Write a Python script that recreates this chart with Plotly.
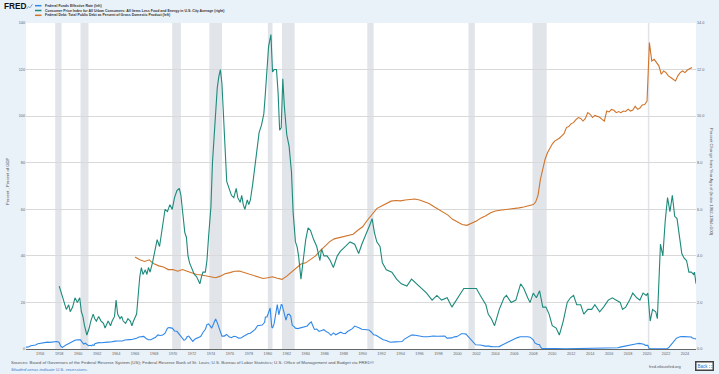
import plotly.graph_objects as go

# ---------------- data ----------------
ff_dates = ["1954-07","1954-10","1955-01","1955-04","1955-07","1955-10","1956-01","1956-04","1956-07","1956-10",
            "1957-01","1957-04","1957-07","1957-10","1957-12","1958-01","1958-03","1958-05","1958-06","1958-08",
            "1958-10","1958-12","1959-03","1959-06","1959-09","1959-12","1960-02","1960-04","1960-06","1960-08",
            "1960-10","1960-12","1961-02","1961-04","1961-06","1961-07","1961-09","1961-10","1961-12","1962-03",
            "1962-06","1962-09","1962-12","1963-03","1963-06","1963-09","1963-12","1964-03","1964-06","1964-09",
            "1964-12","1965-03","1965-06","1965-09","1965-12","1966-03","1966-06","1966-09","1966-12","1967-03",
            "1967-06","1967-09","1967-12","1968-03","1968-06","1968-09","1968-12","1969-03","1969-06","1969-08",
            "1969-12","1970-03","1970-06","1970-09","1970-12","1971-03","1971-05","1971-07","1971-09","1971-12",
            "1972-02","1972-05","1972-08","1972-12","1973-03","1973-06","1973-08","1973-10","1973-12","1974-02",
            "1974-04","1974-07","1974-09","1974-12","1975-03","1975-06","1975-09","1975-12","1976-03","1976-06",
            "1976-09","1976-12","1977-03","1977-06","1977-09","1977-12","1978-03","1978-06","1978-09","1978-12",
            "1979-03","1979-06","1979-09","1979-10","1979-12","1980-03","1980-04","1980-06","1980-07","1980-09",
            "1980-11","1980-12","1981-01","1981-03","1981-05","1981-06","1981-07","1981-09","1981-11","1981-12",
            "1982-02","1982-04","1982-06","1982-08","1982-10","1982-12","1983-03","1983-06","1983-09","1983-12",
            "1984-03","1984-06","1984-08","1984-10","1984-12","1985-03","1985-06","1985-09","1985-12","1986-03",
            "1986-06","1986-09","1986-12","1987-03","1987-06","1987-09","1987-12","1988-03","1988-06","1988-09",
            "1988-12","1989-03","1989-06","1989-09","1989-12","1990-03","1990-06","1990-09","1990-12","1991-03",
            "1991-06","1991-09","1991-12","1992-03","1992-06","1992-09","1992-12","1993-06","1993-12","1994-03",
            "1994-06","1994-09","1994-12","1995-03","1995-06","1995-09","1995-12","1996-06","1996-12","1997-06",
            "1997-12","1998-06","1998-09","1998-12","1999-03","1999-06","1999-09","1999-12","2000-03","2000-06",
            "2000-09","2000-12","2001-01","2001-03","2001-06","2001-09","2001-12","2002-06","2002-12","2003-06",
            "2003-07","2003-12","2004-06","2004-09","2004-12","2005-03","2005-06","2005-09","2005-12","2006-03",
            "2006-06","2006-09","2007-06","2007-09","2007-12","2008-01","2008-03","2008-06","2008-09","2008-10",
            "2008-12","2009-06","2010-06","2011-06","2012-06","2013-06","2014-06","2015-06","2015-12","2016-06",
            "2016-12","2017-03","2017-06","2017-09","2017-12","2018-03","2018-06","2018-09","2018-12","2019-03",
            "2019-06","2019-08","2019-09","2019-11","2020-02","2020-03","2020-04","2020-12","2021-06","2021-12",
            "2022-03","2022-05","2022-06","2022-07","2022-09","2022-10","2022-12","2023-02","2023-05","2023-08",
            "2023-12","2024-06","2024-09","2024-10","2024-12","2025-03"]
ff_vals = [0.80,0.85,1.39,1.43,1.68,2.24,2.45,2.62,2.75,2.96,
           2.84,2.96,2.99,3.24,2.98,2.72,1.20,0.63,0.93,1.50,
           1.80,2.16,2.80,3.39,3.76,3.99,3.97,3.92,2.92,2.15,
           2.47,1.98,1.43,1.62,1.33,1.79,1.50,2.27,2.48,2.74,
           2.71,2.90,2.93,2.96,2.98,3.35,3.38,3.43,3.49,3.45,
           3.85,4.04,4.04,4.07,4.32,4.60,5.17,5.40,5.40,4.53,
           3.98,3.99,4.51,5.05,6.07,5.78,6.02,6.79,8.90,9.19,
           8.97,7.76,7.60,6.29,4.90,3.71,4.15,5.31,5.55,4.14,
           3.29,4.27,4.87,5.33,7.09,8.49,10.50,10.78,9.95,8.97,
           10.51,12.92,11.34,8.53,5.54,5.55,6.24,5.20,4.84,5.48,
           5.25,4.65,4.69,5.39,6.14,6.56,6.79,7.60,8.45,10.03,
           10.09,10.29,11.43,13.77,13.78,17.19,17.61,9.47,9.03,10.87,
           15.85,18.90,19.08,14.70,18.52,19.10,19.04,15.87,13.31,12.37,
           14.78,14.94,14.15,10.12,9.71,8.95,8.77,8.98,9.45,9.47,
           9.91,11.06,11.64,9.99,8.38,8.58,7.53,7.92,8.27,7.48,
           6.92,5.89,6.91,6.13,6.73,7.22,6.77,6.58,7.51,8.19,
           8.76,9.85,9.53,9.01,8.45,8.28,8.29,8.20,7.31,6.12,
           5.90,5.22,4.43,3.98,3.76,3.22,2.92,3.04,2.96,3.21,
           4.25,4.73,5.45,5.98,6.00,5.74,5.60,5.27,5.29,5.56,
           5.50,5.56,5.51,4.68,4.81,4.76,5.22,5.30,5.85,6.53,
           6.52,6.40,5.98,5.31,3.97,3.07,1.82,1.75,1.24,1.22,
           1.01,0.98,1.03,1.61,2.16,2.63,3.04,3.62,4.16,4.59,
           4.99,5.25,5.25,5.07,4.24,3.94,2.61,2.00,1.81,0.97,
           0.16,0.21,0.18,0.09,0.16,0.09,0.10,0.13,0.24,0.38,
           0.54,0.79,1.04,1.15,1.30,1.51,1.82,1.95,2.27,2.41,
           2.38,2.13,2.04,1.55,1.58,0.65,0.05,0.09,0.08,0.08,
           0.20,0.77,1.21,1.68,2.56,3.08,4.10,4.57,5.06,5.33,
           5.33,5.33,5.13,4.83,4.48,4.33]

cpi_dates = ["1958-01","1958-05","1958-08","1958-10","1959-01","1959-03","1959-06","1959-09","1959-12","1960-03",
             "1960-05","1960-07","1960-09","1960-12","1961-03","1961-05","1961-08","1961-10","1961-12","1962-03",
             "1962-06","1962-09","1962-11","1963-01","1963-03","1963-06","1963-08","1963-11","1964-01","1964-03",
             "1964-06","1964-08","1964-10","1965-01","1965-04","1965-07","1965-09","1965-11","1966-01","1966-03",
             "1966-05","1966-07","1966-09","1966-11","1967-02","1967-04","1967-06","1967-08","1967-11","1968-02",
             "1968-05","1968-08","1968-11","1969-01","1969-03","1969-06","1969-09","1969-12","1970-03","1970-06",
             "1970-09","1970-11","1971-02","1971-04","1971-06","1971-08","1971-10","1972-01","1972-04","1972-07",
             "1972-09","1972-11","1973-01","1973-03","1973-06","1973-08","1973-10","1974-01","1974-03","1974-05",
             "1974-07","1974-09","1974-11","1975-01","1975-03","1975-05","1975-07","1975-09","1975-12","1976-03",
             "1976-06","1976-09","1976-11","1977-02","1977-04","1977-06","1977-08","1977-11","1978-01","1978-03",
             "1978-06","1978-09","1978-11","1979-02","1979-05","1979-08","1979-10","1979-12","1980-02","1980-05",
             "1980-07","1980-09","1980-12","1981-02","1981-04","1981-06","1981-08","1981-10","1982-01","1982-04",
             "1982-07","1982-09","1982-12","1983-02","1983-04","1983-07","1983-10","1984-01","1984-04","1984-07",
             "1984-11","1985-03","1985-07","1985-09","1985-12","1986-04","1986-08","1986-12","1987-05","1987-09",
             "1988-03","1988-09","1989-03","1989-08","1989-12","1990-04","1990-07","1990-11","1991-01","1991-04",
             "1991-07","1991-11","1992-02","1992-07","1993-02","1993-08","1994-02","1994-09","1995-03","1995-09",
             "1996-03","1996-10","1997-05","1997-11","1998-05","1998-12","1999-06","1999-10","2000-03","2000-09",
             "2001-03","2001-10","2002-01","2002-06","2002-10","2003-01","2003-04","2003-08","2003-12","2004-06",
             "2004-12","2005-03","2005-09","2006-03","2006-09","2007-01","2007-06","2007-09","2008-01","2008-05",
             "2008-09","2009-01","2009-05","2009-09","2010-01","2010-06","2010-10","2011-03","2011-08","2011-12",
             "2012-04","2012-08","2013-01","2013-05","2013-10","2014-03","2014-07","2015-01","2015-06","2015-12",
             "2016-05","2016-10","2017-03","2017-06","2017-10","2018-03","2018-07","2018-12","2019-04","2019-08",
             "2019-12","2020-02","2020-05","2020-08","2020-12","2021-02","2021-04","2021-06","2021-09","2021-12",
             "2022-03","2022-06","2022-09","2022-12","2023-03","2023-06","2023-09","2023-12","2024-03","2024-06",
             "2024-09","2024-12","2025-01","2025-03"]
cpi_vals = [2.7,2.3,2.0,1.7,1.9,1.6,1.8,2.2,2.0,2.2,
            1.6,1.4,1.0,0.6,0.9,1.2,1.5,1.3,1.2,1.4,
            1.2,1.1,0.9,1.1,1.2,1.0,1.2,1.4,2.1,1.5,
            1.3,1.4,1.2,1.1,1.3,1.2,1.0,1.2,1.4,1.5,
            2.3,3.1,3.5,3.2,3.4,3.2,3.5,3.3,3.7,4.3,
            4.7,4.4,5.2,5.5,6.0,5.9,6.2,6.0,6.5,6.8,
            6.9,6.6,5.4,5.0,4.8,4.0,3.7,3.4,3.2,3.1,
            2.9,2.8,3.1,3.3,3.3,3.8,4.8,6.1,8.0,9.2,
            10.4,11.2,11.7,12.0,11.4,10.2,8.6,7.2,6.9,6.6,
            6.5,6.9,6.5,6.3,6.6,6.2,6.0,6.4,6.2,6.4,
            7.1,8.0,8.6,9.3,9.6,10.1,11.0,12.0,13.0,13.5,
            11.9,12.0,12.0,11.0,9.4,9.5,11.6,10.4,9.2,8.7,
            7.6,5.9,4.6,4.4,4.0,3.0,3.8,4.7,5.2,5.1,
            4.7,4.4,3.8,4.3,4.0,4.0,3.8,3.5,4.0,4.2,
            4.4,4.6,4.5,4.1,4.5,4.8,5.1,5.4,5.6,5.0,
            4.6,4.4,3.7,3.4,3.3,3.0,2.8,2.7,3.0,2.8,
            2.6,2.4,2.1,2.3,2.1,2.2,1.8,2.0,2.3,2.6,
            2.6,2.6,2.6,2.3,2.1,1.9,1.5,1.3,1.0,1.7,
            2.2,2.3,2.0,2.1,2.8,2.6,2.2,2.0,2.4,2.2,
            2.5,1.8,1.8,1.5,1.0,0.9,0.6,1.2,2.0,2.2,
            2.3,1.9,1.9,1.5,1.7,1.7,1.9,1.6,1.8,2.1,
            2.2,2.1,2.0,1.7,1.8,2.1,2.4,2.2,2.1,2.4,
            2.3,2.4,1.2,1.7,1.6,1.3,3.0,4.5,4.0,5.5,
            6.5,5.9,6.6,5.7,5.6,4.8,4.1,3.9,3.8,3.3,
            3.3,3.2,3.3,2.8]

debt_dates = ["1966-01","1966-07","1967-01","1967-04","1967-07","1967-10","1968-01","1968-07","1969-01","1969-07",
              "1970-01","1970-07","1971-01","1971-07","1972-01","1972-07","1973-01","1973-07","1974-01","1974-07",
              "1975-01","1975-07","1976-01","1976-07","1977-01","1977-07","1978-01","1978-07","1979-01","1979-07",
              "1980-01","1980-07","1981-01","1981-07","1982-01","1982-07","1983-01","1983-07","1984-01","1984-07",
              "1985-01","1985-07","1986-01","1986-07","1987-01","1987-07","1988-01","1988-07","1989-01","1989-07",
              "1990-01","1990-07","1991-01","1991-07","1992-01","1992-07","1993-01","1993-07","1994-01","1994-07",
              "1995-01","1995-07","1996-01","1996-07","1997-01","1997-07","1998-01","1998-07","1999-01","1999-07",
              "2000-01","2000-07","2001-01","2001-07","2002-01","2002-07","2003-01","2003-07","2004-01","2004-07",
              "2005-01","2005-07","2006-01","2006-07","2007-01","2007-07","2008-01","2008-04","2008-07","2008-10",
              "2009-01","2009-04","2009-07","2009-10","2010-01","2010-04","2010-10","2011-01","2011-04","2011-07",
              "2011-10","2012-01","2012-04","2012-07","2012-10","2013-01","2013-04","2013-07","2013-10","2014-01",
              "2014-04","2014-07","2014-10","2015-01","2015-04","2015-07","2015-10","2016-01","2016-04","2016-07",
              "2016-10","2017-01","2017-04","2017-07","2017-10","2018-01","2018-04","2018-07","2018-10","2019-01",
              "2019-04","2019-07","2019-10","2020-01","2020-04","2020-07","2020-10","2021-01","2021-04","2021-07",
              "2021-10","2022-01","2022-04","2022-07","2022-10","2023-01","2023-04","2023-07","2023-10","2024-01",
              "2024-04","2024-07","2024-10"]
debt_vals = [39.5,38.3,37.6,38.0,38.3,37.3,36.6,35.7,35.2,34.1,
             34.1,33.4,34.1,33.4,32.7,32.0,31.8,31.5,31.2,30.6,
             31.3,32.3,32.8,33.4,33.5,32.9,32.2,31.4,30.8,30.3,
             30.6,31.0,30.4,29.9,31.3,33.0,35.0,36.5,37.0,38.5,
             39.9,42.0,44.0,46.0,47.3,47.8,48.3,48.8,49.3,51.0,
             52.5,55.3,58.0,60.3,61.4,62.6,63.5,63.8,63.6,64.0,
             64.2,64.4,64.0,63.2,62.5,61.2,60.0,58.6,57.5,55.7,
             54.5,53.5,53.1,54.0,55.0,56.3,57.2,58.5,59.3,59.6,
             59.8,59.9,60.3,60.6,61.0,61.4,62.0,63.1,66.0,72.8,
             78.0,81.5,84.3,86.5,88.0,89.3,90.5,91.5,92.5,95.1,
             95.5,96.8,97.2,98.5,99.4,99.0,97.9,99.0,101.5,100.8,
             99.4,100.3,100.0,99.5,98.6,97.9,102.2,101.8,102.9,102.5,
             101.5,102.0,101.5,102.2,102.0,103.0,102.2,102.6,104.3,102.9,
             103.5,104.8,105.0,106.5,131.6,123.7,124.4,123.0,121.6,118.0,
             119.4,118.7,117.3,116.6,116.0,115.1,117.3,118.7,119.4,118.7,
             119.8,120.2,120.9]

rec_start = ["1957-08-01","1960-04-01","1969-12-01","1973-11-01","1980-01-01",
             "1981-07-01","1990-07-01","2001-03-01","2007-12-01","2020-02-01"]
rec_end = ["1958-04-01","1961-02-01","1970-11-01","1975-03-01","1980-07-01",
           "1982-11-01","1991-03-01","2001-11-01","2009-06-01","2020-04-01"]

year_ticks = list(range(1956, 2025, 2))
tick_labels = [str(y) for y in year_ticks]

series_names = ["Federal Funds Effective Rate (left)",
                "Consumer Price Index for All Urban Consumers: All Items Less Food and Energy in U.S. City Average (right)",
                "Federal Debt: Total Public Debt as Percent of Gross Domestic Product (left)"]

# ---------------- figure ----------------
W, H = 719, 374
L, R, T, B = 26, 23, 23, 25
PW, PH = W - L - R, H - T - B
FONT = "Liberation Sans, Arial, sans-serif"
BLUE, TEAL, ORANGE = "#3088e8", "#1d8a7b", "#d0742a"
BG = "#e9f1f9"

def fx(x):
    return (x - L) / PW

def fy(y):
    return (H - B - y) / PH

def d(s):
    return s + "-01"

fig = go.Figure()
fig.add_trace(go.Scatter(x=[d(s) for s in ff_dates], y=ff_vals, mode="lines",
                         line=dict(color=BLUE, width=1.1), name=series_names[0], showlegend=False))
fig.add_trace(go.Scatter(x=[d(s) for s in cpi_dates], y=cpi_vals, mode="lines", yaxis="y2",
                         line=dict(color=TEAL, width=1.1), name=series_names[1], showlegend=False))
fig.add_trace(go.Scatter(x=[d(s) for s in debt_dates], y=debt_vals, mode="lines",
                         line=dict(color=ORANGE, width=1.1), name=series_names[2], showlegend=False))

for s, e in zip(rec_start, rec_end):
    fig.add_vrect(x0=s, x1=e, fillcolor="#e1e4e9", line_width=0, layer="below")

shapes = []
annotations = []
colors = [BLUE, TEAL, ORANGE]
leg_y = [5.7, 10.5, 15.3]
for name, c, yy in zip(series_names, colors, leg_y):
    shapes.append(dict(type="line", xref="paper", yref="paper", x0=fx(35), x1=fx(41.5),
                       y0=fy(yy), y1=fy(yy), line=dict(color=c, width=1.5)))
    annotations.append(dict(text="<b>" + name + "</b>", xref="paper", yref="paper", x=fx(43), y=fy(yy),
                            xanchor="left", yanchor="middle", showarrow=False,
                            font=dict(size=3.5, color="#333", family=FONT)))

# FRED logo
annotations.append(dict(text="<b>FRED</b>", xref="paper", yref="paper", x=fx(2), y=fy(6.5),
                        xanchor="left", yanchor="middle", showarrow=False,
                        font=dict(size=8.3, color="#111", family=FONT)))
shapes.append(dict(type="path", xref="paper", yref="paper",
                   path=f"M {fx(26.5)} {fy(9)} L {fx(28.5)} {fy(6.5)} L {fx(30)} {fy(7.8)} L {fx(32.5)} {fy(4)}",
                   line=dict(color="#7fa7d8", width=1)))

# axis titles
annotations.append(dict(text="Percent , Percent of GDP", xref="paper", yref="paper", x=fx(7), y=fy(182),
                        textangle=-90, showarrow=False, xanchor="center", yanchor="middle",
                        font=dict(size=4.2, color="#555", family=FONT)))
annotations.append(dict(text="Percent Change from Year Ago of (Index 1982-1984=100)", xref="paper", yref="paper",
                        x=fx(712), y=fy(182), textangle=90, showarrow=False, xanchor="center", yanchor="middle",
                        font=dict(size=4.2, color="#555", family=FONT)))

# footer
annotations.append(dict(text="Sources: Board of Governors of the Federal Reserve System (US); Federal Reserve Bank of St. Louis; "
                             "U.S. Bureau of Labor Statistics; U.S. Office of Management and Budget via FRED®",
                        xref="paper", yref="paper", x=fx(8.5), y=fy(362.5), xanchor="left", yanchor="middle",
                        showarrow=False, font=dict(size=4.4, color="#555", family=FONT)))
annotations.append(dict(text="<i>Shaded areas indicate U.S. recessions.</i>", xref="paper", yref="paper",
                        x=fx(8.5), y=fy(369), xanchor="left", yanchor="middle", showarrow=False,
                        font=dict(size=4.4, color="#3a78c9", family=FONT)))
annotations.append(dict(text="fred.stlouisfed.org", xref="paper", yref="paper", x=fx(647), y=fy(366.5),
                        xanchor="left", yanchor="middle", showarrow=False,
                        font=dict(size=4, color="#555", family=FONT)))
annotations.append(dict(text="Back ∷", xref="paper", yref="paper", x=fx(704.5), y=fy(365.5),
                        xanchor="center", yanchor="middle", showarrow=False, bgcolor="white",
                        bordercolor="#444", borderwidth=1.5, borderpad=1,
                        font=dict(size=4.5, color="#2a6fc9", family=FONT)))

fig.update_layout(
    width=W, height=H, margin=dict(l=L, r=R, t=T, b=B),
    paper_bgcolor=BG, plot_bgcolor="white",
    font=dict(family=FONT, size=4, color="#555"),
    showlegend=False,
    shapes=list(fig.layout.shapes) + shapes,
    annotations=annotations,
    xaxis=dict(type="date", range=["1954-07-01", "2025-03-01"],
               tickvals=[f"{y}-01-01" for y in year_ticks], ticktext=tick_labels,
               showgrid=False, showline=True, linecolor="#666", linewidth=1,
               ticks="", tickfont=dict(size=3.8, color="#666"), zeroline=False, automargin=False),
    yaxis=dict(range=[0, 140], dtick=20, tick0=0, showgrid=True, gridcolor="#d9d9d9", gridwidth=1,
               zeroline=False, showline=False, ticks="", tickfont=dict(size=3.8, color="#666"), automargin=False),
    yaxis2=dict(range=[0, 14], dtick=2, tick0=0, overlaying="y", side="right", showgrid=False,
                zeroline=False, tickformat=".1f", ticks="", tickfont=dict(size=3.8, color="#666"), automargin=False),
)

fig.write_html("out.html", config={"displayModeBar": False},
               post_script="document.body.style.margin='0px';document.body.style.padding='0px';")
